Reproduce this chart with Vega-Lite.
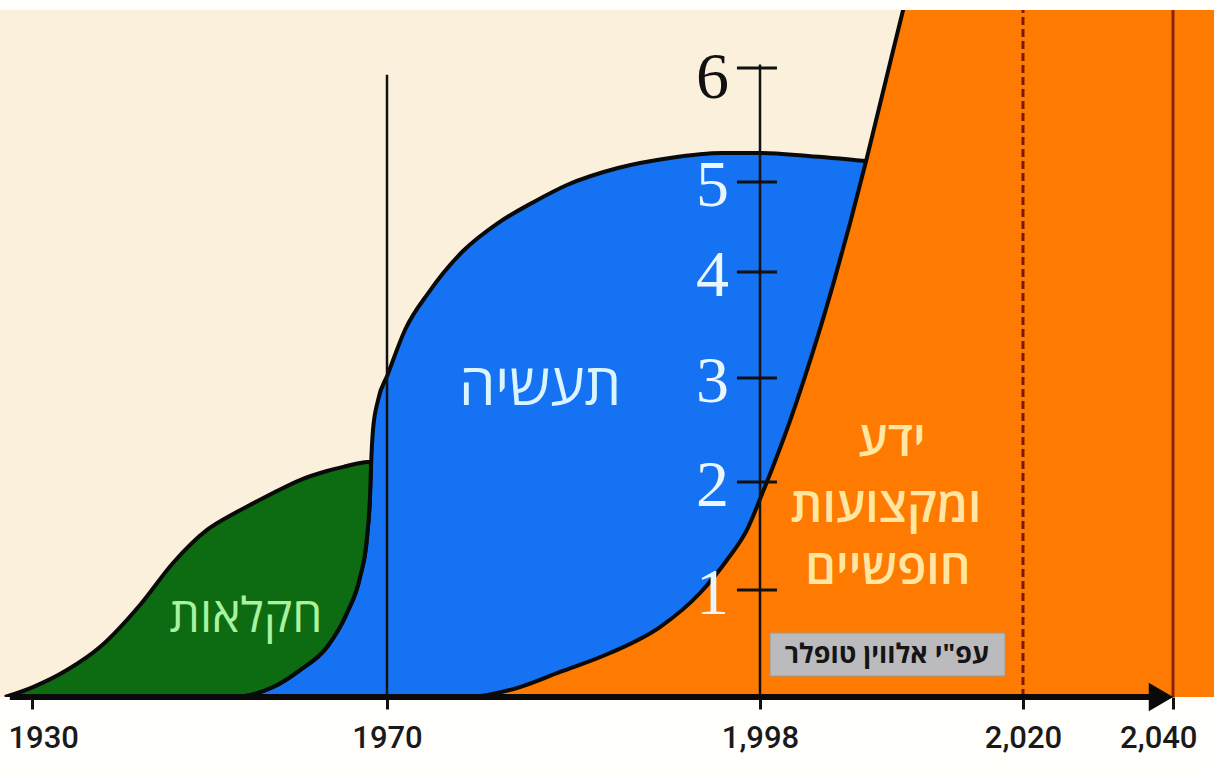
{
  "$schema": "https://vega.github.io/schema/vega-lite/v6.json",
  "width": 1214,
  "height": 687,
  "autosize": "none",
  "padding": {"left": 0, "top": 10, "right": 0, "bottom": 76},
  "background": "#FFFEFA",
  "config": {"view": {"fill": "#FAF0DB", "stroke": null}},
  "datasets": {
    "green": [
      {"year": 1926.96, "v": 0, "v0": 0},
      {"year": 1930.11, "v": 0.093, "v0": 0},
      {"year": 1933.94, "v": 0.252, "v0": 0},
      {"year": 1937.66, "v": 0.467, "v0": 0},
      {"year": 1942.17, "v": 0.86, "v0": 0},
      {"year": 1945.89, "v": 1.25, "v0": 0},
      {"year": 1949.72, "v": 1.556, "v0": 0},
      {"year": 1952.87, "v": 1.713, "v0": 0},
      {"year": 1954.56, "v": 1.787, "v0": 0.019},
      {"year": 1957.16, "v": 1.898, "v0": 0.093},
      {"year": 1960.2, "v": 2.019, "v0": 0.252},
      {"year": 1963.24, "v": 2.106, "v0": 0.467},
      {"year": 1965.49, "v": 2.154, "v0": 0.785},
      {"year": 1966.96, "v": 2.183, "v0": 1.12},
      {"year": 1967.75, "v": 2.192, "v0": 1.491},
      {"year": 1968.09, "v": 2.192, "v0": 1.88},
      {"year": 1968.2, "v": 2.154, "v0": 2.154}
    ],
    "blue": [
      {"year": 1952.87, "v": 0},
      {"year": 1954.56, "v": 0.019},
      {"year": 1957.16, "v": 0.093},
      {"year": 1960.2, "v": 0.252},
      {"year": 1963.24, "v": 0.467},
      {"year": 1965.49, "v": 0.785},
      {"year": 1966.96, "v": 1.12},
      {"year": 1967.75, "v": 1.491},
      {"year": 1968.09, "v": 1.88},
      {"year": 1968.2, "v": 2.154},
      {"year": 1968.42, "v": 2.5},
      {"year": 1968.99, "v": 2.788},
      {"year": 1970.04, "v": 3.028},
      {"year": 1971.35, "v": 3.453},
      {"year": 1973.15, "v": 3.811},
      {"year": 1975.71, "v": 4.233},
      {"year": 1978.33, "v": 4.544},
      {"year": 1980.88, "v": 4.767},
      {"year": 1983.51, "v": 4.967},
      {"year": 1987.34, "v": 5.123},
      {"year": 1991.24, "v": 5.211},
      {"year": 1995.15, "v": 5.254},
      {"year": 1998.0, "v": 5.254},
      {"year": 2002.02, "v": 5.228},
      {"year": 2006.85, "v": 5.184}
    ],
    "orange": [
      {"year": 1975.48, "v": 0},
      {"year": 1976.98, "v": 0.009},
      {"year": 1979.98, "v": 0.093},
      {"year": 1982.99, "v": 0.234},
      {"year": 1986.74, "v": 0.411},
      {"year": 1990.49, "v": 0.654},
      {"year": 1993.5, "v": 0.972},
      {"year": 1995.52, "v": 1.278},
      {"year": 1997.02, "v": 1.556},
      {"year": 1998.17, "v": 1.889},
      {"year": 1999.25, "v": 2.197},
      {"year": 2000.51, "v": 2.588},
      {"year": 2001.76, "v": 3.013},
      {"year": 2003.02, "v": 3.463},
      {"year": 2004.27, "v": 3.945},
      {"year": 2005.53, "v": 4.542},
      {"year": 2006.87, "v": 5.182},
      {"year": 2007.96, "v": 5.649},
      {"year": 2008.96, "v": 6.079},
      {"year": 2009.97, "v": 6.509},
      {"year": 2010.97, "v": 6.939},
      {"year": 2050, "v": 6.939}
    ],
    "blackLines": [
      {"year": 1970, "v": 0, "v2": 5.94},
      {"year": 1998, "v": 0, "v2": 6.03}
    ],
    "dashedLine": [{"year": 2020, "v": 0, "v2": 6.8}],
    "solidRedLine": [{"year": 2040, "v": 0, "v2": 6.8}],
    "yTicks": [
      {"v": 1, "label": "1", "year": 1996.27, "year2": 1999.42},
      {"v": 2, "label": "2", "year": 1996.27, "year2": 1999.42},
      {"v": 3, "label": "3", "year": 1996.27, "year2": 1999.42},
      {"v": 4, "label": "4", "year": 1996.27, "year2": 1999.42},
      {"v": 5, "label": "5", "year": 1996.27, "year2": 1999.42},
      {"v": 6, "label": "6", "year": 1996.27, "year2": 1999.42}
    ],
    "axisLine": [{"year": 1927.5, "year2": 2038.3, "v": 0}],
    "arrow": [{"year": 2038.4, "v": 0}],
    "greenLabel": [{"year": 1954.11, "v": 0.74, "text": "חקלאות"}],
    "blueLabel": [{"year": 1981.49, "v": 2.9, "text": "תעשיה"}],
    "orangeLabel": [
      {"year": 2009.04, "v": 2.385, "text": "ידע"},
      {"year": 2008.54, "v": 1.76, "text": "ומקצועות"},
      {"year": 2008.7, "v": 1.185, "text": "חופשיים"}
    ],
    "sourceBox": [{"year": 1998.84, "year2": 2018.5, "v": 0.598, "v2": 0.196}],
    "sourceText": [{"year": 2008.62, "v": 0.39, "text": "עפ\"י אלווין טופלר"}]
  },
  "encoding": {
    "x": {
      "field": "year",
      "type": "quantitative",
      "scale": {"domain": [1930, 1970, 1998, 2020, 2040], "range": [32, 387, 760, 1023, 1173], "nice": false, "zero": false},
      "axis": {
        "values": [1930, 1970, 1998, 2020, 2040],
        "labelExpr": "datum.value > 1990 ? format(datum.value, ',') : datum.value + ''",
        "domain": false,
        "grid": false,
        "tickSize": 12,
        "tickWidth": 3,
        "tickColor": "#111111",
        "labelFont": "Roboto",
        "labelFontSize": 31,
        "labelFontWeight": 500,
        "labelColor": "#1a1a1a",
        "labelBaseline": "alphabetic",
        "labelPadding": 38,
        "labelAngle": 0,
        "labelOverlap": false,
        "labelFlush": true,
        "labelFlushOffset": 24,
        "title": null
      }
    },
    "y": {
      "field": "v",
      "type": "quantitative",
      "scale": {"domain": [0, 1, 2, 3, 4, 5, 6], "range": [687, 580, 472, 368, 262, 172, 58], "nice": false, "zero": false},
      "axis": null
    }
  },
  "layer": [
    {
      "data": {"name": "blue"},
      "mark": {"type": "area", "interpolate": "monotone", "color": "#1572F2", "stroke": "#0a0a0a", "strokeWidth": 4, "clip": true}
    },
    {
      "data": {"name": "orange"},
      "mark": {"type": "area", "interpolate": "monotone", "color": "#FF7A00", "clip": true}
    },
    {
      "data": {"name": "orange"},
      "mark": {"type": "line", "interpolate": "monotone", "color": "#0a0a0a", "strokeWidth": 4, "clip": true}
    },
    {
      "data": {"name": "green"},
      "mark": {"type": "area", "interpolate": "monotone", "color": "#0D6B12", "stroke": "#0a0a0a", "strokeWidth": 4, "clip": true},
      "encoding": {"y2": {"field": "v0"}}
    },
    {
      "data": {"name": "blackLines"},
      "mark": {"type": "rule", "color": "#111111", "strokeWidth": 2.5},
      "encoding": {"y2": {"field": "v2"}}
    },
    {
      "data": {"name": "dashedLine"},
      "mark": {"type": "rule", "color": "#7A1808", "strokeWidth": 3, "strokeDash": [8, 4], "clip": true},
      "encoding": {"y2": {"field": "v2"}}
    },
    {
      "data": {"name": "solidRedLine"},
      "mark": {"type": "rule", "color": "#8C2208", "strokeWidth": 3, "clip": true},
      "encoding": {"y2": {"field": "v2"}}
    },
    {
      "data": {"name": "yTicks"},
      "mark": {"type": "rule", "color": "#111111", "strokeWidth": 3},
      "encoding": {"x2": {"field": "year2"}}
    },
    {
      "data": {"name": "axisLine"},
      "mark": {"type": "rule", "color": "#0a0a0a", "strokeWidth": 6},
      "encoding": {"x2": {"field": "year2"}}
    },
    {
      "data": {"name": "arrow"},
      "mark": {"type": "point", "shape": "triangle-right", "filled": true, "color": "#0a0a0a", "opacity": 1, "size": 800}
    },
    {
      "data": {"name": "yTicks"},
      "transform": [{"filter": "datum.v < 6"}],
      "mark": {"type": "text", "font": "Liberation Serif", "fontSize": 66, "color": "#EAF6FF", "align": "right", "baseline": "alphabetic", "dx": -8, "dy": 24},
      "encoding": {"text": {"field": "label"}}
    },
    {
      "data": {"name": "yTicks"},
      "transform": [{"filter": "datum.v == 6"}],
      "mark": {"type": "text", "font": "Liberation Serif", "fontSize": 66, "color": "#111111", "align": "right", "baseline": "alphabetic", "dx": -8, "dy": 30},
      "encoding": {"text": {"field": "label"}}
    },
    {
      "data": {"name": "greenLabel"},
      "mark": {"type": "text", "font": "Open Sans, Liberation Sans, DejaVu Sans", "fontSize": 48, "color": "#A8F2A0", "align": "center", "baseline": "middle"},
      "encoding": {"text": {"field": "text"}}
    },
    {
      "data": {"name": "blueLabel"},
      "mark": {"type": "text", "font": "Open Sans, Liberation Sans, DejaVu Sans", "fontSize": 58, "color": "#DAF5FF", "align": "center", "baseline": "middle"},
      "encoding": {"text": {"field": "text"}}
    },
    {
      "data": {"name": "orangeLabel"},
      "mark": {"type": "text", "font": "Open Sans, Liberation Sans, DejaVu Sans", "fontSize": 48, "fontWeight": 600, "color": "#FFE6A2", "align": "center", "baseline": "middle"},
      "encoding": {"text": {"field": "text"}}
    },
    {
      "data": {"name": "sourceBox"},
      "mark": {"type": "rect", "color": "#BBBBBE", "stroke": "#9a9a9a", "strokeWidth": 1},
      "encoding": {"x2": {"field": "year2"}, "y2": {"field": "v2"}}
    },
    {
      "data": {"name": "sourceText"},
      "mark": {"type": "text", "font": "Open Sans, Liberation Sans, DejaVu Sans", "fontSize": 27, "fontWeight": "bold", "color": "#151515", "align": "center", "baseline": "middle"},
      "encoding": {"text": {"field": "text"}}
    }
  ]
}
